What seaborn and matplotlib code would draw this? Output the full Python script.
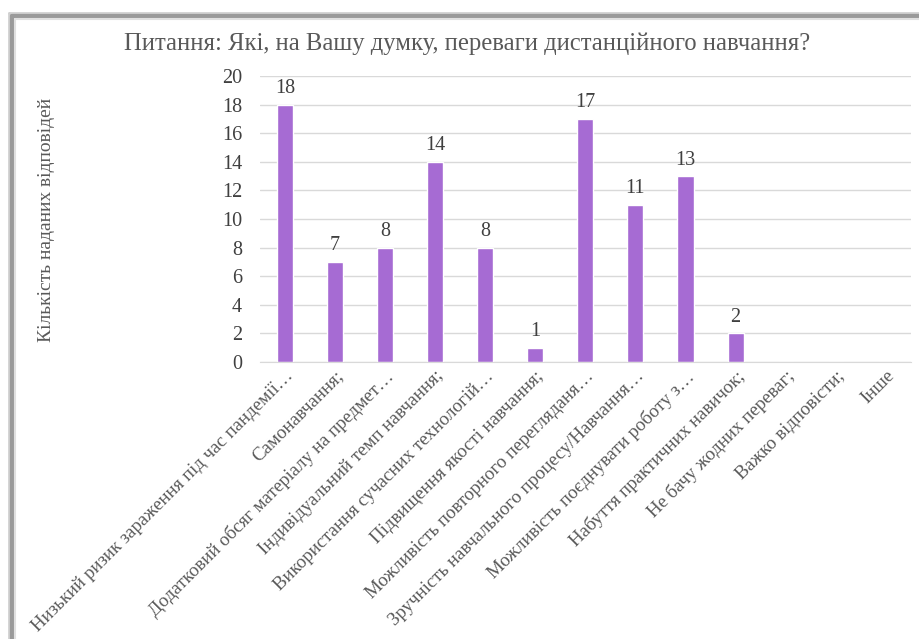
import matplotlib
matplotlib.use("Agg")
import matplotlib.pyplot as plt
import seaborn as sns
import pandas as pd

categories = [
    "Низький ризик зараження під час пандемії…",
    "Самонавчання;",
    "Додатковий обсяг матеріалу на предмет…",
    "Індивідуальний темп навчання;",
    "Використання сучасних технологій…",
    "Підвищення якості навчання;",
    "Можливість повторного перегляданя…",
    "Зручність навчального процесу/Навчання…",
    "Можливість поєднувати роботу з…",
    "Набуття практичних навичок;",
    "Не бачу жодних переваг;",
    "Важко відповісти;",
    "Інше",
]
counts = [18, 7, 8, 14, 8, 1, 17, 11, 13, 2, 0, 0, 0]
y_ticks = list(range(0, 21, 2))

title = "Питання: Які, на Вашу думку, переваги дистанційного навчання?"
y_label = "Кількість наданих відповідей"

df = pd.DataFrame({"cat": categories, "n": counts})

sns.set_style("white")
plt.rcParams["font.family"] = "serif"
plt.rcParams["font.serif"] = ["Liberation Serif", "DejaVu Serif"]
text_col = "#595959"

fig = plt.figure(figsize=(9.19, 6.39), dpi=100)
ax = fig.add_axes([0.283, 0.4335, 0.708, 0.4475])

sns.barplot(data=df, x="cat", y="n", color="#A66BD3", saturation=1,
            width=0.32, ax=ax)

for i, v in enumerate(counts):
    if v > 0:
        ax.text(i, v + 0.45, str(v), ha="center", va="bottom",
                fontsize=14.5, color="#404040")

ax.set_ylim(0, 20)
ax.set_xlim(-0.5, len(categories) - 0.5)
ax.set_yticks(y_ticks)
ax.yaxis.grid(True, color="#d9d9d9", linewidth=1)
ax.set_axisbelow(True)
for s in ["top", "right", "left"]:
    ax.spines[s].set_visible(False)
ax.spines["bottom"].set_color("#d9d9d9")
ax.tick_params(axis="y", length=0, labelsize=14.5, labelcolor="#404040", pad=13)
ax.tick_params(axis="x", length=0, labelsize=13.6, labelcolor=text_col, pad=4)
ax.set_xticks(range(len(categories)))
ax.set_xticklabels(categories, rotation=45, ha="right", rotation_mode="anchor")
ax.set_xlabel("")
ax.set_ylabel("")

fig.text(0.0505, 0.656, y_label, rotation=90, ha="center", va="center",
         fontsize=14, color=text_col)
fig.text(0.508, 0.932, title, ha="center", va="center",
         fontsize=17.7, color=text_col)

# frame around the chart area (top and left edges visible)
for off, col, lw in [(0, "#d0d0d0", 2), (3, "#9a9a9a", 3), (6, "#e0e0e0", 1.5)]:
    x0 = (9 + off) / 919
    y0 = 1 - (13 + off) / 639
    fig.add_artist(plt.Line2D([x0, x0], [0, y0], color=col, linewidth=lw))
    fig.add_artist(plt.Line2D([x0, 1], [y0, y0], color=col, linewidth=lw))

fig.savefig("out.png", dpi=100)
